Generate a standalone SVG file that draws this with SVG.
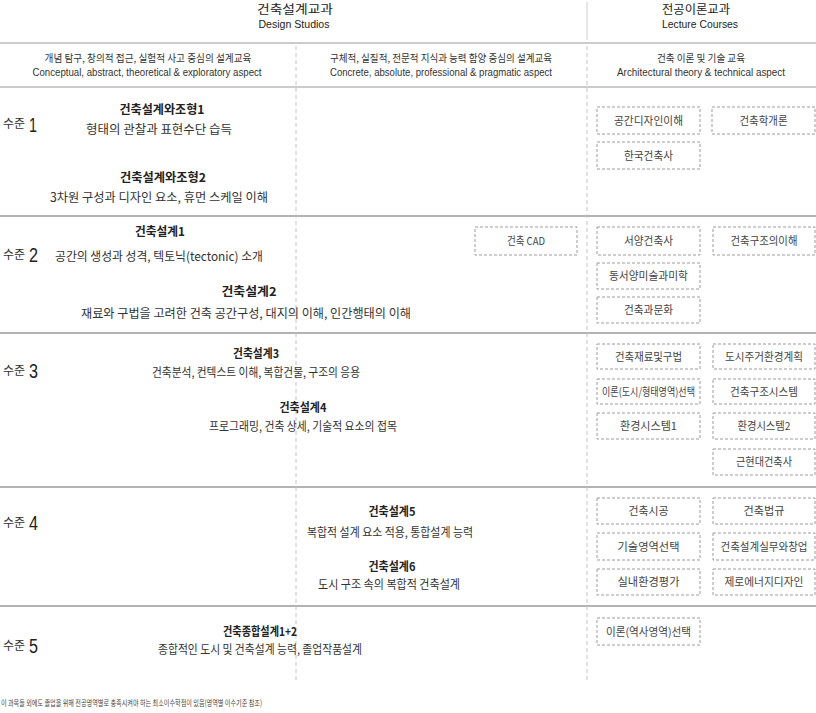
<svg xmlns="http://www.w3.org/2000/svg" width="816" height="713" viewBox="0 0 816 713">
<style>
text { font-family: "Noto Sans CJK KR", "Liberation Sans", sans-serif; fill: #333; }
.en { font-family: "Liberation Sans", "Noto Sans CJK KR", sans-serif; }
.mid { text-anchor: middle; }
.hd { font-size: 12px; fill: #222; }
.hde { font-size: 11.5px; fill: #222; }
.sub { font-size: 10.5px; fill: #333; }
.ttl { font-size: 12px; font-weight: bold; fill: #222; }
.dsc { font-size: 12.5px; fill: #333; }
.lv { font-size: 12px; fill: #333; }
.lvn { font-family: "Liberation Sans", sans-serif; font-size: 20px; fill: #222; }
.box rect { fill: none; stroke: #9c9c9c; stroke-width: 1; stroke-dasharray: 3 2; }
.box text { font-size: 11px; fill: #444; text-anchor: middle; }
.hline { stroke: #cccccc; stroke-width: 2; }
.rline { stroke: #9a9a9a; stroke-width: 1.3; }
.vdash { stroke: #c4c4c4; stroke-width: 1; stroke-dasharray: 4 3; }
.foot { font-size: 8.5px; fill: #444; }
</style>

<g id="grid">
  <line class="hline" x1="0" y1="43" x2="816" y2="43"/>
  <line class="hline" x1="0" y1="87" x2="816" y2="87"/>
  <line class="rline" x1="0" y1="216" x2="816" y2="216"/>
  <line class="rline" x1="0" y1="333" x2="816" y2="333"/>
  <line class="rline" x1="0" y1="487" x2="816" y2="487"/>
  <line class="rline" x1="0" y1="606" x2="816" y2="606"/>
  <line x1="587" y1="2" x2="587" y2="40" stroke="#d0d0d0" stroke-width="1"/>
  <line class="vdash" x1="587" y1="46" x2="587" y2="680"/>
  <line class="vdash" x1="296" y1="46" x2="296" y2="680"/>
</g>

<g id="header">
  <text class="hd mid" x="295" y="14" textLength="76" lengthAdjust="spacingAndGlyphs">건축설계교과</text>
  <text class="hde en mid" x="294" y="28" textLength="71" lengthAdjust="spacingAndGlyphs">Design Studios</text>
  <text class="hd mid" x="696" y="14" textLength="68" lengthAdjust="spacingAndGlyphs">전공이론교과</text>
  <text class="hde en mid" x="700" y="28" textLength="76" lengthAdjust="spacingAndGlyphs">Lecture Courses</text>
</g>

<g id="subheader">
  <text class="sub mid" x="148" y="62" textLength="207" lengthAdjust="spacingAndGlyphs">개념 탐구, 창의적 접근, 실험적 사고 중심의 설계교육</text>
  <text class="sub en mid" x="147" y="76" textLength="229" lengthAdjust="spacingAndGlyphs">Conceptual, abstract, theoretical &amp; exploratory aspect</text>
  <text class="sub mid" x="441" y="62" textLength="222" lengthAdjust="spacingAndGlyphs">구체적, 실질적, 전문적 지식과 능력 함양 중심의 설계교육</text>
  <text class="sub en mid" x="441" y="76" textLength="222" lengthAdjust="spacingAndGlyphs">Concrete, absolute, professional &amp; pragmatic aspect</text>
  <text class="sub mid" x="701" y="62" textLength="88" lengthAdjust="spacingAndGlyphs">건축 이론 및 기술 교육</text>
  <text class="sub en mid" x="701" y="76" textLength="168" lengthAdjust="spacingAndGlyphs">Architectural theory &amp; technical aspect</text>
</g>

<g id="levels">
  <g id="level-1"><text class="lv" x="3" y="128">수준</text><text class="lvn" x="29" y="132" textLength="8" lengthAdjust="spacingAndGlyphs">1</text></g>
  <g id="level-2"><text class="lv" x="3" y="259">수준</text><text class="lvn" x="29" y="262" textLength="9" lengthAdjust="spacingAndGlyphs">2</text></g>
  <g id="level-3"><text class="lv" x="3" y="375">수준</text><text class="lvn" x="29" y="378" textLength="9" lengthAdjust="spacingAndGlyphs">3</text></g>
  <g id="level-4"><text class="lv" x="3" y="527">수준</text><text class="lvn" x="29" y="530" textLength="9" lengthAdjust="spacingAndGlyphs">4</text></g>
  <g id="level-5"><text class="lv" x="3" y="650">수준</text><text class="lvn" x="29" y="653" textLength="9" lengthAdjust="spacingAndGlyphs">5</text></g>
</g>

<g id="studios">
  <g id="studio-form1">
    <text class="ttl mid" x="162" y="114" textLength="85" lengthAdjust="spacingAndGlyphs">건축설계와조형1</text>
    <text class="dsc mid" x="159" y="134" textLength="146" lengthAdjust="spacingAndGlyphs">형태의 관찰과 표현수단 습득</text>
  </g>
  <g id="studio-form2">
    <text class="ttl mid" x="163" y="182" textLength="86" lengthAdjust="spacingAndGlyphs">건축설계와조형2</text>
    <text class="dsc mid" x="159" y="202" textLength="218" lengthAdjust="spacingAndGlyphs">3차원 구성과 디자인 요소, 휴먼 스케일 이해</text>
  </g>
  <g id="studio-design1">
    <text class="ttl mid" x="160" y="236" textLength="50" lengthAdjust="spacingAndGlyphs">건축설계1</text>
    <text class="dsc mid" x="159" y="261" textLength="208" lengthAdjust="spacingAndGlyphs">공간의 생성과 성격, 텍토닉(tectonic) 소개</text>
  </g>
  <g id="studio-design2">
    <text class="ttl mid" x="249" y="296" textLength="55" lengthAdjust="spacingAndGlyphs">건축설계2</text>
    <text class="dsc mid" x="246" y="318" textLength="330" lengthAdjust="spacingAndGlyphs">재료와 구법을 고려한 건축 공간구성, 대지의 이해, 인간행태의 이해</text>
  </g>
  <g id="studio-design3">
    <text class="ttl mid" x="256" y="358" textLength="46" lengthAdjust="spacingAndGlyphs">건축설계3</text>
    <text class="dsc mid" x="256" y="377" textLength="208" lengthAdjust="spacingAndGlyphs">건축분석, 컨텍스트 이해, 복합건물, 구조의 응용</text>
  </g>
  <g id="studio-design4">
    <text class="ttl mid" x="303" y="412" textLength="47" lengthAdjust="spacingAndGlyphs">건축설계4</text>
    <text class="dsc mid" x="303" y="431" textLength="188" lengthAdjust="spacingAndGlyphs">프로그래밍, 건축 상세, 기술적 요소의 접목</text>
  </g>
  <g id="studio-design5">
    <text class="ttl mid" x="392" y="516" textLength="47" lengthAdjust="spacingAndGlyphs">건축설계5</text>
    <text class="dsc mid" x="390" y="537" textLength="166" lengthAdjust="spacingAndGlyphs">복합적 설계 요소 적용, 통합설계 능력</text>
  </g>
  <g id="studio-design6">
    <text class="ttl mid" x="392" y="571" textLength="47" lengthAdjust="spacingAndGlyphs">건축설계6</text>
    <text class="dsc mid" x="389" y="589" textLength="142" lengthAdjust="spacingAndGlyphs">도시 구조 속의 복합적 건축설계</text>
  </g>
  <g id="studio-synthesis">
    <text class="ttl mid" x="260" y="636" textLength="74" lengthAdjust="spacingAndGlyphs">건축종합설계1+2</text>
    <text class="dsc mid" x="260" y="654" textLength="204" lengthAdjust="spacingAndGlyphs">종합적인 도시 및 건축설계 능력, 졸업작품설계</text>
  </g>
</g>

<g id="courses">
  <g id="c-space" class="box"><rect x="597" y="107" width="103" height="27"/><text x="648.5" y="124.5" textLength="69" lengthAdjust="spacingAndGlyphs">공간디자인이해</text></g>
  <g id="c-intro" class="box"><rect x="712" y="107" width="103" height="27"/><text x="763.5" y="124.5" textLength="48" lengthAdjust="spacingAndGlyphs">건축학개론</text></g>
  <g id="c-korean" class="box"><rect x="597" y="142" width="103" height="27"/><text x="648.5" y="159.5" textLength="49" lengthAdjust="spacingAndGlyphs">한국건축사</text></g>

  <g id="c-cad" class="box"><rect x="475" y="227" width="102" height="28"/><text x="526" y="245" textLength="38" lengthAdjust="spacingAndGlyphs">건축 CAD</text></g>
  <g id="c-western" class="box"><rect x="597" y="227" width="103" height="28"/><text x="648.5" y="245" textLength="49" lengthAdjust="spacingAndGlyphs">서양건축사</text></g>
  <g id="c-structure" class="box"><rect x="713" y="227" width="102" height="28"/><text x="764" y="245" textLength="67" lengthAdjust="spacingAndGlyphs">건축구조의이해</text></g>
  <g id="c-art" class="box"><rect x="597" y="263" width="103" height="26"/><text x="648.5" y="280" textLength="79" lengthAdjust="spacingAndGlyphs">동서양미술과미학</text></g>
  <g id="c-culture" class="box"><rect x="597" y="297" width="103" height="26"/><text x="648.5" y="314" textLength="49" lengthAdjust="spacingAndGlyphs">건축과문화</text></g>

  <g id="c-materials" class="box"><rect x="597" y="344" width="103" height="25"/><text x="648.5" y="360.5" textLength="67" lengthAdjust="spacingAndGlyphs">건축재료및구법</text></g>
  <g id="c-housing" class="box"><rect x="713" y="344" width="102" height="25"/><text x="764" y="360.5" textLength="78" lengthAdjust="spacingAndGlyphs">도시주거환경계획</text></g>
  <g id="c-theory-urban" class="box"><rect x="597" y="379" width="103" height="25"/><text x="648.5" y="395.5" textLength="93" lengthAdjust="spacingAndGlyphs">이론(도시/형태영역)선택</text></g>
  <g id="c-struct-sys" class="box"><rect x="713" y="379" width="102" height="25"/><text x="764" y="395.5" textLength="68" lengthAdjust="spacingAndGlyphs">건축구조시스템</text></g>
  <g id="c-env1" class="box"><rect x="597" y="413" width="103" height="26"/><text x="648.5" y="430" textLength="57" lengthAdjust="spacingAndGlyphs">환경시스템1</text></g>
  <g id="c-env2" class="box"><rect x="713" y="413" width="102" height="26"/><text x="764" y="430" textLength="53" lengthAdjust="spacingAndGlyphs">환경시스템2</text></g>
  <g id="c-modern" class="box"><rect x="713" y="449" width="102" height="26"/><text x="764" y="466" textLength="56" lengthAdjust="spacingAndGlyphs">근현대건축사</text></g>

  <g id="c-construction" class="box"><rect x="597" y="498" width="103" height="26"/><text x="648.5" y="515" textLength="40" lengthAdjust="spacingAndGlyphs">건축시공</text></g>
  <g id="c-law" class="box"><rect x="713" y="498" width="102" height="26"/><text x="764" y="515" textLength="41" lengthAdjust="spacingAndGlyphs">건축법규</text></g>
  <g id="c-tech" class="box"><rect x="597" y="533" width="103" height="27"/><text x="648.5" y="550.5" textLength="62" lengthAdjust="spacingAndGlyphs">기술영역선택</text></g>
  <g id="c-practice" class="box"><rect x="713" y="533" width="102" height="27"/><text x="764" y="550.5" textLength="87" lengthAdjust="spacingAndGlyphs">건축설계실무와창업</text></g>
  <g id="c-interior" class="box"><rect x="597" y="569" width="103" height="26"/><text x="648.5" y="586" textLength="62" lengthAdjust="spacingAndGlyphs">실내환경평가</text></g>
  <g id="c-zero" class="box"><rect x="713" y="569" width="102" height="26"/><text x="764" y="586" textLength="79" lengthAdjust="spacingAndGlyphs">제로에너지디자인</text></g>

  <g id="c-theory-history" class="box"><rect x="597" y="618" width="103" height="27"/><text x="648.5" y="635.5" textLength="85" lengthAdjust="spacingAndGlyphs">이론(역사영역)선택</text></g>
</g>

<g id="connectors"></g>

<g id="footnote">
  <text class="foot" x="1" y="706" textLength="261" lengthAdjust="spacingAndGlyphs">이 과목들 외에도 졸업을 위해 전공영역별로 충족시켜야 하는 최소이수학점이 있음(영역별 이수기준 참조)</text>
</g>
</svg>
